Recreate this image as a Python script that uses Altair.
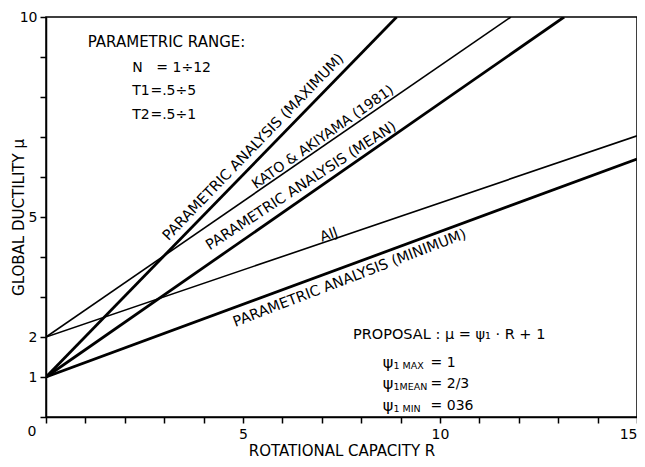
import altair as alt
import pandas as pd

# ---- data ----
series = ["max", "kato", "mean", "aij", "min"]
r_start = [0, 0, 0, 0, 0]
mu_start = [1, 2, 1, 2, 1]
r_end = [8.9, 11.8, 13.15, 15, 15]
mu_end = [10, 10, 10, 7.03, 6.45]
line_w = [2.8, 1.6, 2.8, 1.6, 2.8]

x_ticks = list(range(0, 16))
y_ticks = list(range(0, 11))

# line labels
lab_text = ["PARAMETRIC ANALYSIS (MAXIMUM)", "KATO & AKIYAMA (1981)",
            "PARAMETRIC ANALYSIS (MEAN)", "AIJ", "PARAMETRIC ANALYSIS (MINIMUM)"]
lab_r = [5.27, 7.03, 6.48, 7.18, 7.71]
lab_mu = [6.74, 6.99, 5.77, 4.55, 3.46]
lab_angle = [314, 325, 327, 340, 339]
lab_size = [14.5, 14, 14.5, 14, 14.5]

# left-aligned notes
note_text = ["PARAMETRIC RANGE:", "N", "T1", "T2", "= 1÷12", "=.5÷5", "=.5÷1",
             "PROPOSAL : μ = ψ₁ · R + 1",
             "ψ", "ψ", "ψ", "1 MAX", "1MEAN", "1 MIN", "= 1", "= 2/3", "= 036"]
note_r = [1.06, 2.19, 2.19, 2.19, 2.80, 2.65, 2.65,
          7.79,
          8.55, 8.55, 8.55, 8.82, 8.82, 8.82, 9.76, 9.76, 9.76]
note_mu = [9.38, 8.73, 8.15, 7.56, 8.73, 8.15, 7.56,
           2.06,
           1.34, 0.82, 0.27, 1.27, 0.75, 0.20, 1.34, 0.82, 0.27]
note_size = [15, 14, 14, 14, 14, 14, 14,
             14.5,
             16, 16, 16, 9.5, 9.5, 9.5, 14, 14, 14]

FONT = "DejaVu Sans"

rows = []
for s, r0, m0, r1, m1, w in zip(series, r_start, mu_start, r_end, mu_end, line_w):
    rows.append({"s": s, "R": r0, "mu": m0, "w": w, "o": 0})
    rows.append({"s": s, "R": r1, "mu": m1, "w": w, "o": 1})
lines_df = pd.DataFrame(rows)

lab_df = pd.DataFrame({"R": lab_r, "mu": lab_mu, "t": lab_text,
                       "a": lab_angle, "fs": lab_size})
note_df = pd.DataFrame({"R": note_r, "mu": note_mu, "t": note_text, "fs": note_size})
origin_df = pd.DataFrame({"R": [0], "mu": [0], "t": ["0"]})

xscale = alt.Scale(domain=[0, 15], nice=False, zero=False)
yscale = alt.Scale(domain=[0, 10], nice=False, zero=False)

x_axis = alt.Axis(
    values=x_ticks,
    labelExpr="(datum.value == 5 || datum.value == 10 || datum.value == 15) ? datum.label : ''",
    tickSize=6, labelPadding=4, labelFlush=True, labelOverlap=False,
    title="ROTATIONAL CAPACITY R", titleFontSize=15, titleY=38,
    titleBaseline="alphabetic", grid=False)
y_axis = alt.Axis(
    values=y_ticks,
    labelExpr="(datum.value == 1 || datum.value == 2 || datum.value == 5 || datum.value == 10) ? datum.label : ''",
    tickSize=6, labelPadding=3, labelFlush=False, labelOverlap=False,
    title="GLOBAL DUCTILITY μ", titleFontSize=15, titleAngle=270,
    titleX=-23, titleY=200, titleAlign="center", titleBaseline="alphabetic",
    grid=False)


def X():
    return alt.X("R:Q", scale=xscale, axis=x_axis)


def Y():
    return alt.Y("mu:Q", scale=yscale, axis=y_axis)


lines = alt.Chart(lines_df).mark_line(color="black", clip=True).encode(
    x=X(), y=Y(), detail="s:N", order="o:Q",
    strokeWidth=alt.StrokeWidth("w:Q", scale=None, legend=None))

labels = alt.Chart(lab_df).mark_text(font=FONT, color="black", align="center",
                                     baseline="middle").encode(
    x=X(), y=Y(),
    text="t:N", angle=alt.Angle("a:Q", scale=None),
    size=alt.Size("fs:Q", scale=None, legend=None))

notes = alt.Chart(note_df).mark_text(font=FONT, color="black", align="left",
                                     baseline="middle").encode(
    x=X(), y=Y(),
    text="t:N", size=alt.Size("fs:Q", scale=None, legend=None))

origin = alt.Chart(origin_df).mark_text(font=FONT, color="black", align="center",
                                        baseline="middle", fontSize=14,
                                        dx=-14, dy=15).encode(
    x=X(), y=Y(), text="t:N")

chart = alt.layer(lines, labels, notes, origin).properties(
    width=591, height=400,
    autosize=alt.AutoSizeParams(type="none"),
    padding={"left": 38, "top": 9, "right": 0, "bottom": 42},
    background="white",
).configure_view(stroke="black", strokeWidth=1.5).configure_axis(
    domainColor="black", domainWidth=1.5, tickColor="black", tickWidth=1.5,
    labelColor="black", labelFont=FONT, labelFontSize=14,
    titleColor="black", titleFont=FONT, titleFontWeight="normal",
)

chart.save("out.html", embed_options={"renderer": "svg", "actions": False})
